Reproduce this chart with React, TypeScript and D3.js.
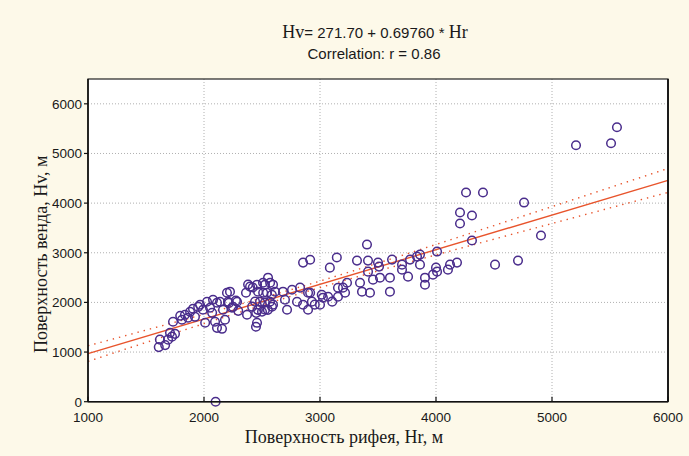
import React from "react";
import * as d3 from "d3";

// Hr (x, m) values of the observations
const hrValues: number[] = [
  1620, 1610, 1665, 1690, 1724, 1750, 1707, 1733, 1810, 1836, 1862, 1905, 1922, 1966, 1991,
  2026, 2052, 2078, 2112, 2138, 2164, 2181, 2095, 2112, 2155, 2198, 2224, 2207, 2241, 2285,
  2362, 2371, 2397, 2457, 2466, 2457, 2448, 2483, 2509, 2552, 2543, 2569, 2595, 2612, 2586,
  2500, 2526, 2681, 2698, 2716, 2759, 2828, 2854, 2802, 2854, 2897, 2897, 2100,
  2070, 2010, 2250, 2275, 2295, 2420, 2450, 1950, 1795, 1880, 2215,
  2380, 2525, 2570, 2585, 2510, 2415, 2440, 2525, 2465, 2550, 2595,
  2915, 2915, 2930, 2955, 3015, 3000, 3025, 3085, 3070, 3105, 3145, 3155, 3155,
  3405, 3319, 3414, 3500, 3621, 3509, 3414, 3345, 3457, 3517, 3603, 3233, 3198, 3216, 3362,
  3431, 3603, 3707, 3707, 3759, 3776, 3836, 3862, 3862, 3905, 3905, 3974, 4009, 4009,
  4259, 4405, 4759, 4207, 4310, 4207, 4310, 4905, 4000, 4121, 4181, 4103, 4509, 4707,
  5207, 5509, 5560,
];

// Hv (y, m) values of the observations
const hvValues: number[] = [
  1250, 1100, 1140, 1250, 1310, 1367, 1387, 1610, 1650, 1751, 1690, 1872, 1710, 1953, 1852,
  2014, 1892, 2054, 1993, 2014, 1852, 1650, 1610, 1488, 1468, 2195, 2216, 2014, 1892, 2014,
  2195, 1751, 2317, 2357, 2216, 1589, 1509, 2014, 2397, 2498, 2195, 2014, 2357, 2216, 1913,
  1812, 1852, 2216, 2054, 1852, 2256, 2297, 2802, 2014, 1953, 1852, 2195, 0,
  1790, 1590, 1910, 2035, 1830, 2300, 1790, 1910, 1730, 1810, 1990,
  2360, 2355, 2395, 2155, 2195, 1915, 2015, 1995, 1850, 1850, 1955,
  2860, 2195, 2015, 1955, 2155, 1955, 2095, 2700, 2115, 2015, 2905, 2295, 2115,
  3165, 2842, 2842, 2802, 2862, 2721, 2620, 2397, 2458, 2498, 2498, 2397, 2297, 2195, 2216,
  2195, 2216, 2761, 2660, 2519, 2862, 2923, 2963, 2761, 2498, 2357, 2559, 2620, 3024,
  4213, 4213, 4011, 3811, 3751, 3589, 3246, 3347, 2700, 2761, 2802, 2660, 2761, 2842,
  5165, 5205, 5529,
];

const xTicks: number[] = [1000, 2000, 3000, 4000, 5000, 6000];
const yTicks: number[] = [0, 1000, 2000, 3000, 4000, 5000, 6000];
const intercept = 271.7;
const slope = 0.6976;
const correlation = "0.86";
const xTitle = "Поверхность рифея, Hr, м";
const yTitle = "Поверхность венда, Hv, м";

const W = 689;
const H = 456;
const M = { left: 88, right: 668, top: 79, bottom: 401.7 };
const SANS = "'Liberation Sans', Arial, sans-serif";
const SERIF = "'Liberation Serif', 'Times New Roman', serif";
const PURPLE = "#4a2d8c";
const RED = "#e8542c";

export default function App() {
  const x = d3.scaleLinear().domain([1000, 6000]).range([M.left, M.right]);
  const y = d3.scaleLinear().domain([0, 6500]).range([M.bottom, M.top]);

  const pts = hrValues.map((v, i) => ({ x: v, y: hvValues[i] }));
  const n = pts.length;
  const mx = d3.mean(hrValues) as number;
  const sxx = d3.sum(hrValues, (v) => (v - mx) ** 2);
  const sse = d3.sum(pts, (p) => (p.y - (intercept + slope * p.x)) ** 2);
  const s = Math.sqrt(sse / (n - 2));
  const t = 1.977;
  const xs = d3.range(1000, 6001, 50);
  const band = (sign: number) =>
    xs.map((xv) => {
      const se = s * Math.sqrt(1 / n + (xv - mx) ** 2 / sxx);
      return [xv, intercept + slope * xv + sign * t * se] as [number, number];
    });
  const line = d3
    .line<[number, number]>()
    .x((d) => x(d[0]))
    .y((d) => y(d[1]));
  const fit: [number, number][] = [
    [1000, intercept + slope * 1000],
    [6000, intercept + slope * 6000],
  ];

  const cy = (M.top + M.bottom) / 2;

  return (
    <svg
      width={W}
      height={H}
      style={{ position: "absolute", left: 0, top: 0 }}
    >
      <rect x={0} y={0} width={W} height={H} fill="#fdf9e9" />
      <rect
        x={M.left}
        y={M.top}
        width={M.right - M.left}
        height={M.bottom - M.top}
        fill="#ffffff"
      />
      {/* grid */}
      {xTicks.slice(1, -1).map((v) => (
        <line
          key={"gx" + v}
          x1={x(v)}
          x2={x(v)}
          y1={M.top}
          y2={M.bottom}
          stroke="#b0b0b0"
          strokeWidth={1}
          strokeDasharray="1,2"
        />
      ))}
      {yTicks.slice(1).map((v) => (
        <line
          key={"gy" + v}
          x1={M.left}
          x2={M.right}
          y1={y(v)}
          y2={y(v)}
          stroke="#b0b0b0"
          strokeWidth={1}
          strokeDasharray="1,2"
        />
      ))}
      {/* regression band and line */}
      <path d={line(band(1)) || ""} fill="none" stroke={RED} strokeWidth={1.4} strokeDasharray="1.4,5" />
      <path d={line(band(-1)) || ""} fill="none" stroke={RED} strokeWidth={1.4} strokeDasharray="1.4,5" />
      <path d={line(fit) || ""} fill="none" stroke={RED} strokeWidth={1.4} />
      {/* points */}
      {pts.map((p, i) => (
        <circle
          key={i}
          cx={x(p.x)}
          cy={y(p.y)}
          r={4.3}
          fill="none"
          stroke={PURPLE}
          strokeWidth={1.5}
        />
      ))}
      {/* frame */}
      <rect
        x={M.left}
        y={M.top}
        width={M.right - M.left}
        height={M.bottom - M.top}
        fill="none"
        stroke="#222"
        strokeWidth={1.2}
      />
      <line x1={M.left} x2={M.left} y1={M.top} y2={M.bottom} stroke="#111" strokeWidth={1.6} />
      <line x1={M.left} x2={M.right} y1={M.bottom} y2={M.bottom} stroke="#111" strokeWidth={1.6} />
      <line x1={M.right} x2={M.right} y1={M.top} y2={M.bottom} stroke="#111" strokeWidth={1.8} />
      {/* x ticks */}
      {xTicks.map((v) => (
        <g key={"xt" + v}>
          <line x1={x(v)} x2={x(v)} y1={M.bottom} y2={M.bottom - 5} stroke="#111" strokeWidth={1.2} />
          <text
            x={x(v)}
            y={M.bottom + 20}
            textAnchor="middle"
            fontFamily={SANS}
            fontSize={13.5}
            fill="#1a1a1a"
          >
            {v}
          </text>
        </g>
      ))}
      {/* y ticks */}
      {yTicks.map((v) => (
        <g key={"yt" + v}>
          <line x1={M.left - 4} x2={M.left} y1={y(v)} y2={y(v)} stroke="#111" strokeWidth={1.2} />
          <text
            x={M.left - 6}
            y={y(v) + 5}
            textAnchor="end"
            fontFamily={SANS}
            fontSize={13.5}
            fill="#1a1a1a"
          >
            {v}
          </text>
        </g>
      ))}
      {/* titles */}
      <text x={375} y={38} textAnchor="middle" fill="#1a1a1a">
        <tspan fontFamily={SERIF} fontSize={18}>Hv</tspan>
        <tspan fontFamily={SANS} fontSize={15}>{`= ${intercept.toFixed(2)} + ${slope.toFixed(5)} * `}</tspan>
        <tspan fontFamily={SERIF} fontSize={18}>Hr</tspan>
      </text>
      <text x={374} y={59} textAnchor="middle" fontFamily={SANS} fontSize={15} fill="#1a1a1a">
        {`Correlation: r = ${correlation}`}
      </text>
      <text x={344} y={443} textAnchor="middle" fontFamily={SERIF} fontSize={18} fill="#1a1a1a">
        {xTitle}
      </text>
      <text
        transform={`translate(47,${cy + 14}) rotate(-90)`}
        textAnchor="middle"
        fontFamily={SERIF}
        fontSize={18}
        fill="#1a1a1a"
      >
        {yTitle}
      </text>
    </svg>
  );
}
